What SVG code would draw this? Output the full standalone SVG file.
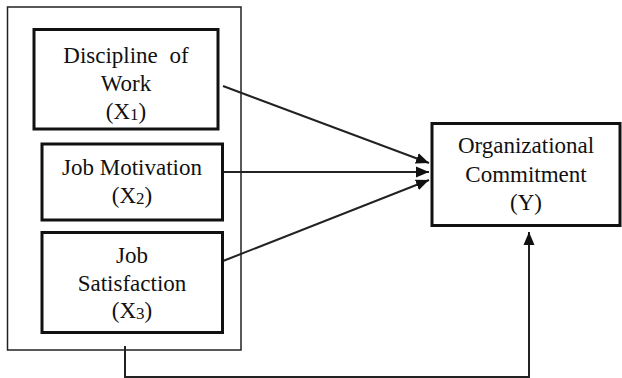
<svg xmlns="http://www.w3.org/2000/svg" width="622" height="378" viewBox="0 0 622 378">
  <style>
    .box { fill: #fff; stroke: #111; stroke-width: 3; }
    .outer { fill: #fff; stroke: #222; stroke-width: 1.5; }
    .lbl { font-family: "Liberation Serif", "Times New Roman", serif; font-size: 23px; fill: #111; text-anchor: middle; }
    .sub { font-size: 17px; }
    .conn { fill: none; stroke: #222; stroke-width: 2; }
  </style>
  <defs>
    <marker id="arr" markerUnits="userSpaceOnUse" markerWidth="14" markerHeight="12" refX="13" refY="6" orient="auto">
      <path d="M0,0.5 L13,6 L0,11.5 Z" fill="#111"/>
    </marker>
  </defs>
  <rect width="622" height="378" fill="#fff"/>
  <rect class="outer" x="7.5" y="7" width="233.5" height="343"/>
  <g id="connectors">
    <line class="conn" x1="223" y1="86" x2="429" y2="163" marker-end="url(#arr)"/>
    <line class="conn" x1="223" y1="172" x2="429" y2="172" marker-end="url(#arr)"/>
    <line class="conn" x1="223" y1="261" x2="429" y2="180" marker-end="url(#arr)"/>
    <path class="conn" d="M125,346 V377 H529 V232" marker-end="url(#arr)"/>
  </g>
  <g id="x1">
    <rect class="box" x="34" y="29.5" width="184" height="99.5"/>
    <text class="lbl" x="126" y="63" word-spacing="6">Discipline of</text>
    <text class="lbl" x="126" y="91">Work</text>
    <text class="lbl" x="126" y="119">(X<tspan class="sub" dy="1">1</tspan><tspan dy="-1">)</tspan></text>
  </g>
  <g id="x2">
    <rect class="box" x="42" y="144" width="180.5" height="76"/>
    <text class="lbl" x="132" y="175">Job Motivation</text>
    <text class="lbl" x="132" y="203">(X<tspan class="sub" dy="1">2</tspan><tspan dy="-1">)</tspan></text>
  </g>
  <g id="x3">
    <rect class="box" x="42" y="232.5" width="180.5" height="100"/>
    <text class="lbl" x="132" y="263">Job</text>
    <text class="lbl" x="132" y="291">Satisfaction</text>
    <text class="lbl" x="132" y="318">(X<tspan class="sub" dy="1">3</tspan><tspan dy="-1">)</tspan></text>
  </g>
  <g id="y">
    <rect class="box" x="432" y="123.5" width="188" height="102"/>
    <text class="lbl" x="526" y="153">Organizational</text>
    <text class="lbl" x="526" y="182">Commitment</text>
    <text class="lbl" x="526" y="210">(Y)</text>
  </g>
</svg>
